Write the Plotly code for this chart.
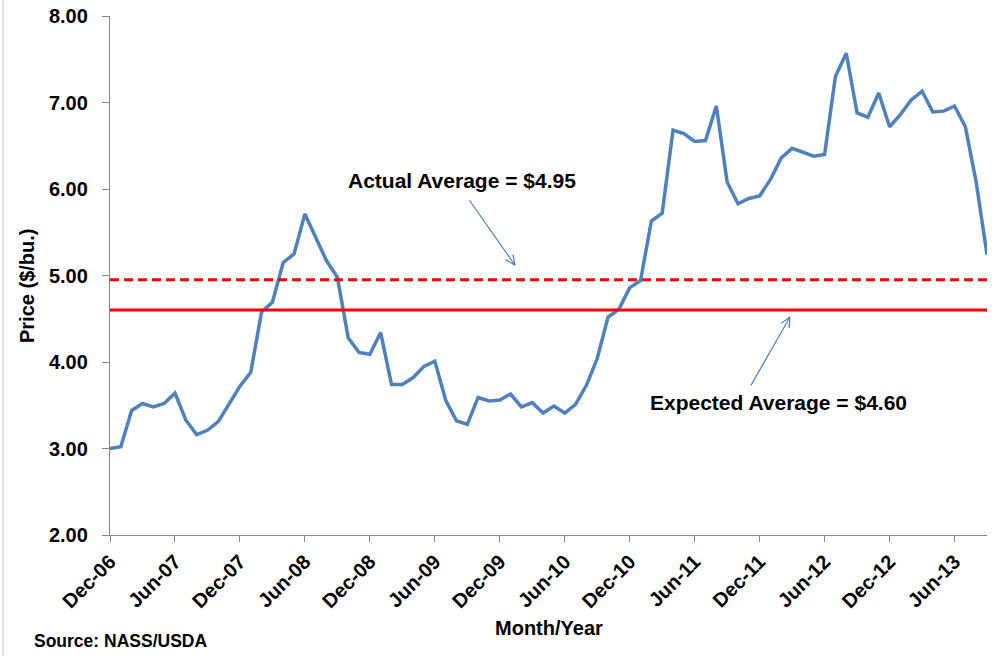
import math
import pandas as pd
import plotly.graph_objects as go

# ---------------- data ----------------
months = [d.strftime("%b-%y") for d in pd.date_range("2006-12-01", periods=82, freq="MS")]
prices = [3.00, 3.02, 3.44, 3.52, 3.48, 3.52, 3.64, 3.33, 3.16, 3.21, 3.31, 3.51,
          3.72, 3.88, 4.58, 4.69, 5.15, 5.25, 5.71, 5.44, 5.17, 4.98, 4.28, 4.11,
          4.09, 4.34, 3.74, 3.74, 3.82, 3.95, 4.01, 3.56, 3.32, 3.28, 3.59, 3.55,
          3.56, 3.63, 3.48, 3.53, 3.41, 3.49, 3.41, 3.51, 3.73, 4.04, 4.52, 4.61,
          4.86, 4.94, 5.63, 5.72, 6.68, 6.64, 6.55, 6.56, 6.96, 6.08, 5.83, 5.89,
          5.92, 6.11, 6.36, 6.47, 6.43, 6.38, 6.40, 7.30, 7.57, 6.88, 6.83, 7.11,
          6.72, 6.86, 7.03, 7.13, 6.89, 6.90, 6.96, 6.72, 6.08, 5.24]
actual_avg = 4.95
expected_avg = 4.60
tick_labels = months[0:79:6]
y_ticks = [2, 3, 4, 5, 6, 7, 8]

# ---------------- layout geometry ----------------
W, H = 1007, 656
ML, MR, MT, MB = 110, 20, 16, 121
PW, PH = W - ML - MR, H - MT - MB
XMAX = len(months) - 1
YMIN, YMAX = 2, 8

FONT = "Liberation Sans, Arial, Helvetica, sans-serif"
BLUE = "#4F81BD"
RED = "#FF0000"
GREY = "#868686"


def to_px(xi, yv):
    return ML + xi / XMAX * PW, MT + (YMAX - yv) / (YMAX - YMIN) * PH


def px_to_paper(px, py):
    return (px - ML) / PW, (MT + PH - py) / PH


fig = go.Figure()
fig.add_trace(go.Scatter(x=months, y=prices, mode="lines",
                         line=dict(color=BLUE, width=3.5), showlegend=False))
fig.add_trace(go.Scatter(x=months, y=[actual_avg] * len(months), mode="lines",
                         line=dict(color=RED, width=3, dash="9px,5px"), showlegend=False))
fig.add_trace(go.Scatter(x=months, y=[expected_avg] * len(months), mode="lines",
                         line=dict(color=RED, width=3), showlegend=False))

shapes = []


def arrow(tail, tip):
    tx, ty = to_px(*tail)
    hx, hy = to_px(*tip)
    dx, dy = tx - hx, ty - hy
    L = math.hypot(dx, dy)
    ux, uy = dx / L, dy / L
    pts = []
    for ang in (math.radians(25), math.radians(-25)):
        rx = ux * math.cos(ang) - uy * math.sin(ang)
        ry = ux * math.sin(ang) + uy * math.cos(ang)
        pts.append((hx + rx * 11, hy + ry * 11))
    segs = [((tx, ty), (hx, hy)), (pts[0], (hx, hy)), (pts[1], (hx, hy))]
    for a, b in segs:
        x0, y0 = px_to_paper(*a)
        x1, y1 = px_to_paper(*b)
        shapes.append(dict(type="line", xref="paper", yref="paper",
                           x0=x0, y0=y0, x1=x1, y1=y1,
                           line=dict(color=BLUE, width=1.2)))


arrow((33.2, 5.87), (37.4, 5.12))
arrow((59.2, 3.73), (62.8, 4.52))

# left border of the chart area
bx, _ = px_to_paper(3, 0)
shapes.append(dict(type="line", xref="paper", yref="paper",
                   x0=bx, x1=bx, y0=px_to_paper(0, H)[1], y1=px_to_paper(0, 0)[1],
                   line=dict(color="#D9D9D9", width=1.5)))

annotations = []


def text(s, px, py, size, **kw):
    x, y = px_to_paper(px, py)
    d = dict(text=s, x=x, y=y, xref="paper", yref="paper", showarrow=False,
             font=dict(family=FONT, size=size, color="black", weight="bold"))
    d.update(kw)
    annotations.append(d)


ax_px = to_px(32.5, 6.10)
text("Actual Average = $4.95", ax_px[0], ax_px[1], 21, xanchor="center", yanchor="middle")
ex_px = to_px(61.75, 3.53)
text("Expected Average = $4.60", ex_px[0], ex_px[1], 21, xanchor="center", yanchor="middle")
text("Month/Year", ML + PW / 2, 628, 20, xanchor="center", yanchor="middle")
text("Price ($/bu.)", 27, 286, 20, xanchor="center", yanchor="middle", textangle=-90)
text("Source: NASS/USDA", 32, 641, 17.5, xanchor="left", yanchor="middle")

fig.update_layout(
    width=W, height=H, autosize=False,
    margin=dict(l=ML, r=MR, t=MT, b=MB, pad=0, autoexpand=False),
    paper_bgcolor="white", plot_bgcolor="white",
    shapes=shapes, annotations=annotations,
    xaxis=dict(type="category", range=[0, XMAX], tickmode="array",
               tickvals=tick_labels, ticktext=tick_labels, tickangle=-45,
               ticks="outside", ticklen=6, tickcolor=GREY, tickwidth=1,
               showline=True, linecolor=GREY, linewidth=1.3, automargin=False,
               showgrid=False, zeroline=False,
               tickfont=dict(family=FONT, size=20, color="black", weight="bold")),
    yaxis=dict(range=[YMIN, YMAX], tickmode="array", tickvals=y_ticks,
               tickformat=".2f", ticks="outside", ticklen=7, tickcolor=GREY,
               tickwidth=1, showline=True, linecolor=GREY, linewidth=1.3,
               showgrid=False, zeroline=False, ticklabelstandoff=10, automargin=False,
               tickfont=dict(family=FONT, size=20, color="black", weight="bold")),
)

fig.write_html("out.html", config={"displayModeBar": False},
               post_script="document.body.style.margin='0px';document.body.style.overflow='hidden';")
